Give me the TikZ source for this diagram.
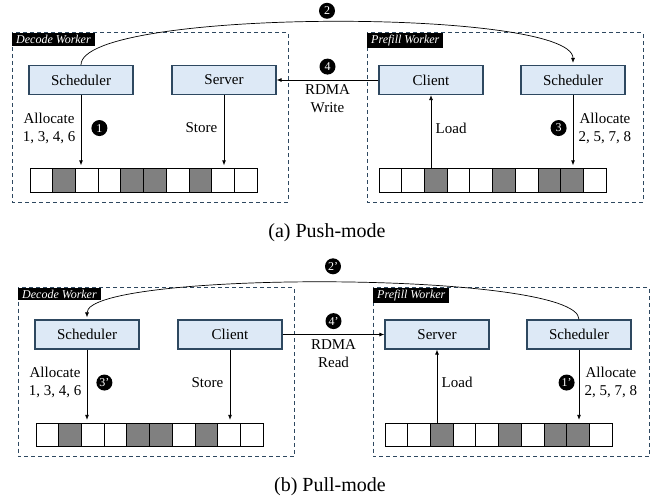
\documentclass[tikz,border=0pt]{standalone}
\usepackage{fontspec}
\setmainfont{Liberation Serif}
\usepackage{tikz}
\usetikzlibrary{calc,positioning,arrows.meta}
\definecolor{boxfill}{RGB}{221,233,246}
\definecolor{boxline}{RGB}{46,72,96}
\definecolor{cellgrey}{RGB}{128,128,128}
\def\drawworker{\draw[boxline, line width=1pt, dash pattern=on 4pt off 3pt]}
\def\compnode{\node[draw=boxline,fill=boxfill,line width=1.2pt,minimum width=104pt,minimum height=29pt]}
\def\tagnode{\node[anchor=north west,fill=black,text=white,inner xsep=4pt,inner ysep=2pt,font=\fontsize{12}{12}\selectfont\itshape]}
\tikzset{
  stepnum/.style={circle,fill=black,text=white,inner sep=0pt,minimum size=16pt,font=\fontsize{12}{12}\selectfont},
  cell/.style={draw=black,line width=0.8pt,minimum width=22.7pt,minimum height=23.5pt,inner sep=0pt},
  arr/.style={-{Latex[length=5pt,width=4pt]},line width=0.8pt},
}

\begin{document}
\begin{tikzpicture}[x=1pt,y=-1pt,font=\fontsize{15}{18}\selectfont]
\useasboundingbox (0,0) rectangle (655,500);
\coordinate (oa) at (0,0);
\coordinate (ob) at (6,254.5); % panel (b) is panel (a) moved down

% (a) Push-mode
\drawworker ($ (oa) + (12,33) $) rectangle ($ (oa) + (288,202) $);
\drawworker ($ (oa) + (367,33) $) rectangle ($ (oa) + (643,202) $);
\tagnode (dtaga) at ($ (oa) + (12,33) $) {Decode Worker};
\tagnode (ptaga) at ($ (oa) + (367,33) $) {Prefill Worker};

\compnode (dscha) at ($ (oa) + (81,80) $) {Scheduler};
\compnode (dsrva) at ($ (oa) + (224,80) $) {Server};
\compnode (pclia) at ($ (oa) + (431,80) $) {Client};
\compnode (pscha) at ($ (oa) + (573,80) $) {Scheduler};

\foreach \f [count=\i] in {white,cellgrey,white,white,cellgrey,cellgrey,white,cellgrey,white,white}
  \node[cell,fill=\f] (dca\i) at ($ (oa) + ({18.65+22.7*\i},180.5) $) {};
\foreach \f [count=\i] in {white,white,cellgrey,white,white,cellgrey,white,cellgrey,cellgrey,white}
  \node[cell,fill=\f] (pca\i) at ($ (oa) + ({367.65+22.7*\i},180.5) $) {};

\draw[arr,shorten >=3pt] (dscha) -- (dscha |- dca1.north)
  node[pos=0.45,left=2pt,align=center] (alloca) {Allocate\\1, 3, 4, 6}
  node[stepnum,pos=0.45,right=10pt] (s1a) {1};
\draw[arr,shorten >=3pt] (dsrva) -- (dsrva |- dca1.north) node[pos=0.45,left=3pt] (storea) {Store};
\draw[arr] (pclia |- pca1.north) -- (pclia) node[pos=0.55,right=1pt] (loada) {Load};
\draw[arr,shorten >=3pt] (pscha) -- (pscha |- pca1.north)
  node[pos=0.45,right=2pt,align=center] (allocpa) {Allocate\\2, 5, 7, 8}
  node[stepnum,pos=0.45,left=6pt] (s3a) {3};

% RDMA write and the scheduler hand-off
\draw[arr] (pclia) -- (dsrva)
  node[stepnum,midway,above=5pt] (s4a) {4}
  node[midway,below=1pt,align=center] (rdmaa) {RDMA\\Write};
\draw[arr,line width=0.7pt,shorten >=2pt] (dscha.north) .. controls +(0,-57) and +(0,-57) .. (pscha.north)
  node[stepnum,midway,above=3pt] (s2a) {2};

\node (capa) at (327,233) {\fontsize{20}{20}\selectfont (a) Push-mode};

% (b) Pull-mode
\drawworker ($ (ob) + (12,33) $) rectangle ($ (ob) + (288,202) $);
\drawworker ($ (ob) + (367,33) $) rectangle ($ (ob) + (643,202) $);
\tagnode (dtagb) at ($ (ob) + (12,33) $) {Decode Worker};
\tagnode (ptagb) at ($ (ob) + (367,33) $) {Prefill Worker};

\compnode (dschb) at ($ (ob) + (81,80) $) {Scheduler};
\compnode (dclib) at ($ (ob) + (224,80) $) {Client};
\compnode (psrvb) at ($ (ob) + (431,80) $) {Server};
\compnode (pschb) at ($ (ob) + (573,80) $) {Scheduler};

\foreach \f [count=\i] in {white,cellgrey,white,white,cellgrey,cellgrey,white,cellgrey,white,white}
  \node[cell,fill=\f] (dcb\i) at ($ (ob) + ({18.65+22.7*\i},180.5) $) {};
\foreach \f [count=\i] in {white,white,cellgrey,white,white,cellgrey,white,cellgrey,cellgrey,white}
  \node[cell,fill=\f] (pcb\i) at ($ (ob) + ({367.65+22.7*\i},180.5) $) {};

\draw[arr,shorten >=3pt] (dschb) -- (dschb |- dcb1.north)
  node[pos=0.45,left=2pt,align=center] (allocb) {Allocate\\1, 3, 4, 6}
  node[stepnum,pos=0.45,right=9pt] (s3b) {3'};
\draw[arr,shorten >=3pt] (dclib) -- (dclib |- dcb1.north) node[pos=0.45,left=3pt] (storeb) {Store};
\draw[arr] (psrvb |- pcb1.north) -- (psrvb) node[pos=0.55,right=1pt] (loadb) {Load};
\draw[arr,shorten >=3pt] (pschb) -- (pschb |- pcb1.north)
  node[pos=0.45,right=2pt,align=center] (allocpb) {Allocate\\2, 5, 7, 8}
  node[stepnum,pos=0.45,left=4pt] (s1b) {1'};

% RDMA read and the scheduler hand-off
\draw[arr] (dclib) -- (psrvb)
  node[stepnum,midway,above=5pt] (s4b) {4'}
  node[midway,below=1pt,align=center] (rdmab) {RDMA\\Read};
\draw[arr,line width=0.7pt,shorten >=2pt] (pschb.north) .. controls +(0,-49) and +(0,-49) .. (dschb.north)
  node[stepnum,midway,above=8pt] (s2b) {2'};

\node (capb) at (330,487) {\fontsize{20}{20}\selectfont (b) Pull-mode};
\end{tikzpicture}
\end{document}
